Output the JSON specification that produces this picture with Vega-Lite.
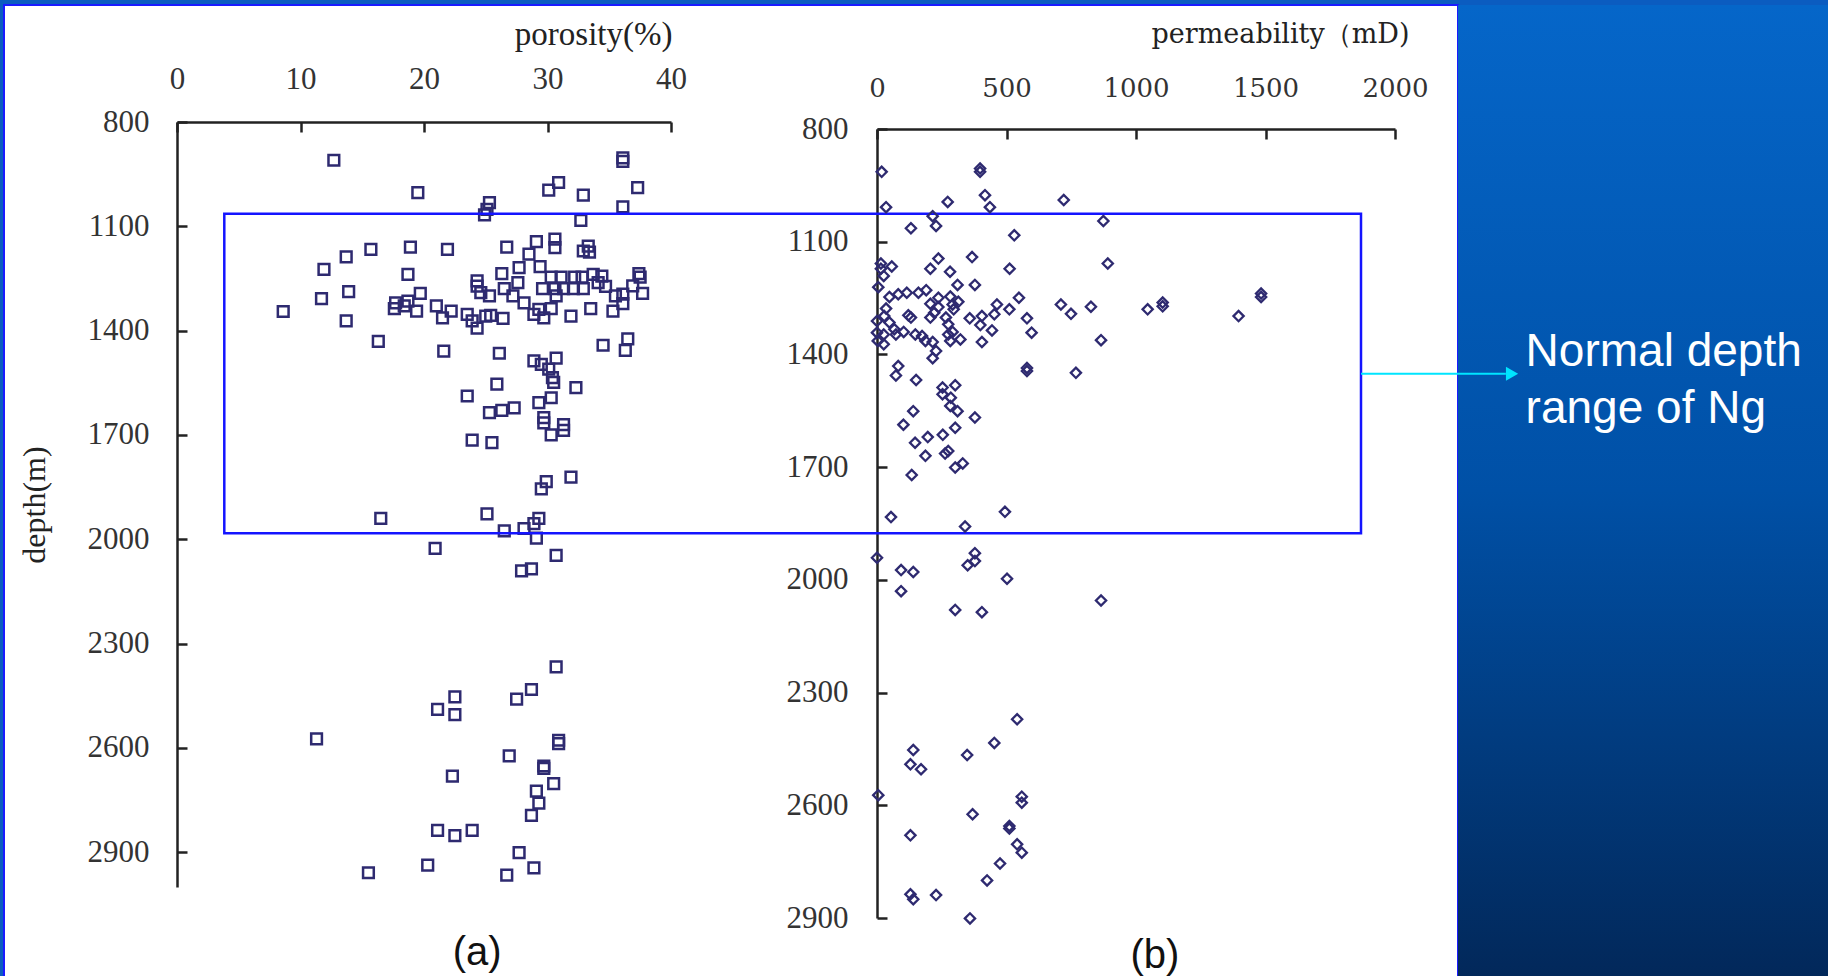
{
  "$schema": "https://vega.github.io/schema/vega-lite/v6.json",
  "padding": {"left": 3, "top": 4, "right": 0, "bottom": 0},
  "background": "#0b5cc0",
  "spacing": 0,
  "bounds": "flush",
  "config": {
    "view": {"stroke": null},
    "axis": {
      "grid": false,
      "labelFont": "Liberation Serif",
      "titleFont": "Liberation Serif",
      "labelColor": "#333333",
      "titleColor": "#222222",
      "domainColor": "#222222",
      "tickColor": "#222222",
      "domainWidth": 2.5,
      "tickWidth": 2.5,
      "tickSize": -10,
      "labelFontSize": 31,
      "titleFontSize": 32,
      "titleFontWeight": "normal",
      "labelOverlap": false,
      "labelFlush": false,
      "format": "d"
    }
  },
  "datasets": {
    "poro": [
      {"porosity": 12.7, "depth": 910}, {"porosity": 36.1, "depth": 903}, {"porosity": 36.1, "depth": 913},
      {"porosity": 19.5, "depth": 1003}, {"porosity": 30.1, "depth": 996}, {"porosity": 30.9, "depth": 974},
      {"porosity": 32.9, "depth": 1010}, {"porosity": 37.3, "depth": 989}, {"porosity": 36.1, "depth": 1044},
      {"porosity": 25.3, "depth": 1032}, {"porosity": 25.1, "depth": 1051}, {"porosity": 24.9, "depth": 1067},
      {"porosity": 32.7, "depth": 1083}, {"porosity": 26.7, "depth": 1160}, {"porosity": 29.1, "depth": 1144},
      {"porosity": 30.6, "depth": 1137}, {"porosity": 30.6, "depth": 1161}, {"porosity": 32.9, "depth": 1171},
      {"porosity": 33.4, "depth": 1174}, {"porosity": 33.3, "depth": 1157}, {"porosity": 15.7, "depth": 1166},
      {"porosity": 18.9, "depth": 1160}, {"porosity": 21.9, "depth": 1166}, {"porosity": 13.7, "depth": 1188},
      {"porosity": 11.9, "depth": 1224}, {"porosity": 18.7, "depth": 1238}, {"porosity": 28.5, "depth": 1180},
      {"porosity": 27.7, "depth": 1219}, {"porosity": 29.4, "depth": 1216}, {"porosity": 26.3, "depth": 1236},
      {"porosity": 30.3, "depth": 1246}, {"porosity": 31.1, "depth": 1246}, {"porosity": 32.2, "depth": 1246},
      {"porosity": 32.8, "depth": 1246}, {"porosity": 33.7, "depth": 1238}, {"porosity": 34.4, "depth": 1243},
      {"porosity": 37.4, "depth": 1236}, {"porosity": 37.5, "depth": 1246}, {"porosity": 24.3, "depth": 1257},
      {"porosity": 24.3, "depth": 1272}, {"porosity": 24.6, "depth": 1291}, {"porosity": 25.3, "depth": 1300},
      {"porosity": 26.5, "depth": 1279}, {"porosity": 27.6, "depth": 1262}, {"porosity": 27.2, "depth": 1300},
      {"porosity": 28.1, "depth": 1320}, {"porosity": 29.6, "depth": 1279}, {"porosity": 30.6, "depth": 1279},
      {"porosity": 30.7, "depth": 1300}, {"porosity": 31.3, "depth": 1279}, {"porosity": 32.1, "depth": 1279},
      {"porosity": 32.9, "depth": 1279}, {"porosity": 34.1, "depth": 1262}, {"porosity": 34.7, "depth": 1273},
      {"porosity": 35.5, "depth": 1300}, {"porosity": 36.1, "depth": 1295}, {"porosity": 36.9, "depth": 1271},
      {"porosity": 37.7, "depth": 1293}, {"porosity": 36.1, "depth": 1322}, {"porosity": 35.3, "depth": 1344},
      {"porosity": 33.5, "depth": 1337}, {"porosity": 31.9, "depth": 1358}, {"porosity": 28.9, "depth": 1353},
      {"porosity": 29.7, "depth": 1363}, {"porosity": 29.3, "depth": 1339}, {"porosity": 30.3, "depth": 1337},
      {"porosity": 8.6, "depth": 1345}, {"porosity": 11.7, "depth": 1308}, {"porosity": 13.9, "depth": 1288},
      {"porosity": 13.7, "depth": 1372}, {"porosity": 16.3, "depth": 1431}, {"porosity": 17.7, "depth": 1320},
      {"porosity": 17.6, "depth": 1337}, {"porosity": 18.4, "depth": 1329}, {"porosity": 18.7, "depth": 1315},
      {"porosity": 19.4, "depth": 1344}, {"porosity": 19.7, "depth": 1293}, {"porosity": 21.0, "depth": 1329},
      {"porosity": 21.5, "depth": 1363}, {"porosity": 22.2, "depth": 1344}, {"porosity": 23.5, "depth": 1353},
      {"porosity": 23.9, "depth": 1372}, {"porosity": 24.3, "depth": 1393}, {"porosity": 25.0, "depth": 1358},
      {"porosity": 25.4, "depth": 1356}, {"porosity": 26.4, "depth": 1365}, {"porosity": 21.6, "depth": 1459},
      {"porosity": 26.1, "depth": 1465}, {"porosity": 34.5, "depth": 1442}, {"porosity": 36.3, "depth": 1457},
      {"porosity": 36.5, "depth": 1424}, {"porosity": 28.9, "depth": 1487}, {"porosity": 30.7, "depth": 1479},
      {"porosity": 29.5, "depth": 1497}, {"porosity": 30.1, "depth": 1511}, {"porosity": 30.4, "depth": 1535},
      {"porosity": 25.9, "depth": 1554}, {"porosity": 30.5, "depth": 1549}, {"porosity": 32.3, "depth": 1564},
      {"porosity": 23.5, "depth": 1588}, {"porosity": 25.3, "depth": 1636}, {"porosity": 26.3, "depth": 1629},
      {"porosity": 27.3, "depth": 1622}, {"porosity": 29.3, "depth": 1607}, {"porosity": 30.3, "depth": 1593},
      {"porosity": 29.7, "depth": 1650}, {"porosity": 29.7, "depth": 1665}, {"porosity": 31.3, "depth": 1670},
      {"porosity": 31.3, "depth": 1687}, {"porosity": 30.3, "depth": 1700}, {"porosity": 23.9, "depth": 1715},
      {"porosity": 25.5, "depth": 1722}, {"porosity": 31.9, "depth": 1821}, {"porosity": 29.9, "depth": 1834},
      {"porosity": 29.5, "depth": 1855}, {"porosity": 16.5, "depth": 1940}, {"porosity": 25.1, "depth": 1927},
      {"porosity": 29.3, "depth": 1940}, {"porosity": 28.9, "depth": 1955}, {"porosity": 28.1, "depth": 1969},
      {"porosity": 26.5, "depth": 1976}, {"porosity": 29.1, "depth": 1997}, {"porosity": 20.9, "depth": 2026},
      {"porosity": 30.7, "depth": 2046}, {"porosity": 27.9, "depth": 2091}, {"porosity": 28.7, "depth": 2085},
      {"porosity": 30.7, "depth": 2367}, {"porosity": 28.7, "depth": 2432}, {"porosity": 27.5, "depth": 2460},
      {"porosity": 22.5, "depth": 2453}, {"porosity": 21.1, "depth": 2489}, {"porosity": 22.5, "depth": 2504},
      {"porosity": 11.3, "depth": 2574}, {"porosity": 30.9, "depth": 2578}, {"porosity": 30.9, "depth": 2588},
      {"porosity": 26.9, "depth": 2623}, {"porosity": 29.7, "depth": 2652}, {"porosity": 29.7, "depth": 2659},
      {"porosity": 22.3, "depth": 2681}, {"porosity": 30.5, "depth": 2703}, {"porosity": 29.1, "depth": 2724},
      {"porosity": 29.3, "depth": 2759}, {"porosity": 28.7, "depth": 2794}, {"porosity": 21.1, "depth": 2837},
      {"porosity": 22.5, "depth": 2852}, {"porosity": 23.9, "depth": 2837}, {"porosity": 27.7, "depth": 2901},
      {"porosity": 28.9, "depth": 2945}, {"porosity": 26.7, "depth": 2966}, {"porosity": 20.3, "depth": 2937},
      {"porosity": 15.5, "depth": 2959}
    ],
    "perm": [
      {"permeability": 18, "depth": 914}, {"permeability": 398, "depth": 905}, {"permeability": 398, "depth": 914},
      {"permeability": 417, "depth": 976}, {"permeability": 436, "depth": 1008}, {"permeability": 35, "depth": 1008},
      {"permeability": 273, "depth": 994}, {"permeability": 721, "depth": 989}, {"permeability": 215, "depth": 1032},
      {"permeability": 228, "depth": 1058}, {"permeability": 131, "depth": 1064}, {"permeability": 874, "depth": 1045},
      {"permeability": 530, "depth": 1083}, {"permeability": 367, "depth": 1141}, {"permeability": 237, "depth": 1145},
      {"permeability": 206, "depth": 1172}, {"permeability": 282, "depth": 1180}, {"permeability": 512, "depth": 1172},
      {"permeability": 891, "depth": 1158}, {"permeability": 15, "depth": 1158}, {"permeability": 15, "depth": 1172},
      {"permeability": 57, "depth": 1166}, {"permeability": 26, "depth": 1191}, {"permeability": 5, "depth": 1221},
      {"permeability": 311, "depth": 1215}, {"permeability": 378, "depth": 1215}, {"permeability": 48, "depth": 1247},
      {"permeability": 82, "depth": 1240}, {"permeability": 115, "depth": 1236}, {"permeability": 160, "depth": 1236},
      {"permeability": 190, "depth": 1229}, {"permeability": 237, "depth": 1249}, {"permeability": 283, "depth": 1246},
      {"permeability": 314, "depth": 1260}, {"permeability": 206, "depth": 1265}, {"permeability": 237, "depth": 1274},
      {"permeability": 296, "depth": 1280}, {"permeability": 292, "depth": 1267}, {"permeability": 548, "depth": 1249},
      {"permeability": 463, "depth": 1267}, {"permeability": 511, "depth": 1280}, {"permeability": 710, "depth": 1267},
      {"permeability": 749, "depth": 1292}, {"permeability": 826, "depth": 1273}, {"permeability": 1045, "depth": 1280},
      {"permeability": 1103, "depth": 1262}, {"permeability": 1103, "depth": 1272}, {"permeability": 1396, "depth": 1298},
      {"permeability": 1483, "depth": 1238}, {"permeability": 1483, "depth": 1247}, {"permeability": 865, "depth": 1362},
      {"permeability": 35, "depth": 1278}, {"permeability": 0, "depth": 1311}, {"permeability": 28, "depth": 1298},
      {"permeability": 48, "depth": 1315}, {"permeability": 67, "depth": 1333}, {"permeability": 0, "depth": 1342},
      {"permeability": 26, "depth": 1347}, {"permeability": 73, "depth": 1347}, {"permeability": 103, "depth": 1340},
      {"permeability": 3, "depth": 1364}, {"permeability": 26, "depth": 1373}, {"permeability": 121, "depth": 1296},
      {"permeability": 131, "depth": 1302}, {"permeability": 148, "depth": 1347}, {"permeability": 174, "depth": 1351},
      {"permeability": 187, "depth": 1364}, {"permeability": 206, "depth": 1302}, {"permeability": 221, "depth": 1289},
      {"permeability": 215, "depth": 1367}, {"permeability": 228, "depth": 1391}, {"permeability": 215, "depth": 1410},
      {"permeability": 266, "depth": 1302}, {"permeability": 275, "depth": 1320}, {"permeability": 275, "depth": 1347},
      {"permeability": 283, "depth": 1364}, {"permeability": 292, "depth": 1340}, {"permeability": 322, "depth": 1360},
      {"permeability": 358, "depth": 1304}, {"permeability": 399, "depth": 1322}, {"permeability": 405, "depth": 1298},
      {"permeability": 453, "depth": 1293}, {"permeability": 444, "depth": 1336}, {"permeability": 405, "depth": 1367},
      {"permeability": 579, "depth": 1304}, {"permeability": 597, "depth": 1342}, {"permeability": 579, "depth": 1436},
      {"permeability": 579, "depth": 1444}, {"permeability": 768, "depth": 1449}, {"permeability": 82, "depth": 1431},
      {"permeability": 73, "depth": 1456}, {"permeability": 151, "depth": 1468}, {"permeability": 253, "depth": 1488},
      {"permeability": 302, "depth": 1482}, {"permeability": 253, "depth": 1506}, {"permeability": 285, "depth": 1515},
      {"permeability": 283, "depth": 1537}, {"permeability": 311, "depth": 1551}, {"permeability": 140, "depth": 1551},
      {"permeability": 378, "depth": 1568}, {"permeability": 102, "depth": 1587}, {"permeability": 147, "depth": 1635},
      {"permeability": 196, "depth": 1620}, {"permeability": 254, "depth": 1614}, {"permeability": 302, "depth": 1595},
      {"permeability": 187, "depth": 1670}, {"permeability": 263, "depth": 1664}, {"permeability": 275, "depth": 1657},
      {"permeability": 302, "depth": 1701}, {"permeability": 331, "depth": 1690}, {"permeability": 134, "depth": 1721},
      {"permeability": 54, "depth": 1833}, {"permeability": 494, "depth": 1819}, {"permeability": 340, "depth": 1858},
      {"permeability": 0, "depth": 1941}, {"permeability": 93, "depth": 1974}, {"permeability": 140, "depth": 1979},
      {"permeability": 378, "depth": 1929}, {"permeability": 378, "depth": 1950}, {"permeability": 350, "depth": 1961},
      {"permeability": 502, "depth": 1997}, {"permeability": 93, "depth": 2030}, {"permeability": 302, "depth": 2080},
      {"permeability": 405, "depth": 2086}, {"permeability": 865, "depth": 2055}, {"permeability": 541, "depth": 2371},
      {"permeability": 453, "depth": 2434}, {"permeability": 348, "depth": 2466}, {"permeability": 140, "depth": 2453},
      {"permeability": 129, "depth": 2491}, {"permeability": 170, "depth": 2504}, {"permeability": 5, "depth": 2573},
      {"permeability": 559, "depth": 2577}, {"permeability": 559, "depth": 2593}, {"permeability": 369, "depth": 2624},
      {"permeability": 511, "depth": 2655}, {"permeability": 511, "depth": 2662}, {"permeability": 129, "depth": 2680},
      {"permeability": 541, "depth": 2704}, {"permeability": 559, "depth": 2726}, {"permeability": 475, "depth": 2755},
      {"permeability": 425, "depth": 2800}, {"permeability": 129, "depth": 2837}, {"permeability": 140, "depth": 2850},
      {"permeability": 228, "depth": 2839}, {"permeability": 359, "depth": 2901}
    ],
    "ngRange": [
      {"top": 1064, "bottom": 1983, "label": "Normal depth\nrange of Ng"}
    ]
  },
  "hconcat": [
    {
      "width": 1454,
      "height": 972,
      "view": {"fill": "white", "stroke": "#1a1aff", "strokeWidth": 2},
      "layer": [
        {
          "layer": [
            {
              "data": {"name": "poro"},
              "mark": {"type": "point", "shape": "square", "filled": false, "size": 115, "strokeWidth": 2.5, "color": "#2e2a70", "opacity": 1},
              "encoding": {
                "x": {
                  "field": "porosity", "type": "quantitative",
                  "scale": {"domain": [0, 40], "range": [173, 667], "nice": false, "zero": false},
                  "axis": {
                    "orient": "top", "offset": -117, "values": [0, 10, 20, 30, 40],
                    "labelPadding": 53, "labelBaseline": "middle",
                    "title": "porosity(%)", "titleFontSize": 33, "titleX": 668, "titleY": -88,
                    "titleAlign": "right", "titleBaseline": "middle"
                  }
                },
                "y": {
                  "field": "depth", "type": "quantitative",
                  "scale": {"domain": [800, 3000], "range": [117, 882], "nice": false, "zero": false},
                  "axis": {
                    "orient": "left", "offset": -173, "values": [800, 1100, 1400, 1700, 2000, 2300, 2600, 2900],
                    "labelPadding": 38, "labelAlign": "right",
                    "title": "depth(m)", "titleX": -143, "titleBaseline": "middle"
                  }
                }
              }
            },
            {
              "data": {"name": "ngRange"},
              "mark": {"type": "rect", "filled": false, "color": "#1414ff", "strokeWidth": 2.5},
              "encoding": {
                "x": {"datum": 3.83, "type": "quantitative"},
                "x2": {"datum": 95.87},
                "y": {"field": "top", "type": "quantitative"},
                "y2": {"field": "bottom"}
              }
            },
            {
              "data": {"name": "ngRange"},
              "mark": {"type": "text", "align": "center", "baseline": "middle", "font": "Liberation Sans", "fontSize": 40, "color": "#111111"},
              "encoding": {
                "x": {"datum": 24.3, "type": "quantitative"},
                "y": {"datum": 3190, "type": "quantitative"},
                "text": {"value": "(a)"}
              }
            }
          ]
        },
        {
          "layer": [
            {
              "data": {"name": "perm"},
              "mark": {"type": "point", "shape": "diamond", "filled": false, "size": 105, "strokeWidth": 2.3, "color": "#2e2a70", "opacity": 1},
              "encoding": {
                "x": {
                  "field": "permeability", "type": "quantitative",
                  "scale": {"domain": [0, 2000], "range": [873, 1391], "nice": false, "zero": false},
                  "axis": {
                    "orient": "top", "offset": -124, "values": [0, 500, 1000, 1500, 2000],
                    "labelPadding": 51, "labelBaseline": "middle", "labelDx": -9,
                    "labelFont": "DejaVu Serif", "labelFontSize": 26,
                    "title": "permeability（mD)", "titleFont": "DejaVu Serif", "titleFontSize": 27,
                    "titleX": 1405, "titleY": -95, "titleAlign": "right", "titleBaseline": "middle"
                  }
                },
                "y": {
                  "field": "depth", "type": "quantitative",
                  "scale": {"domain": [800, 2900], "range": [124, 913], "nice": false, "zero": false},
                  "axis": {
                    "orient": "left", "offset": -873, "values": [800, 1100, 1400, 1700, 2000, 2300, 2600, 2900],
                    "labelPadding": 39, "labelAlign": "right", "title": null
                  }
                }
              }
            },
            {
              "data": {"name": "ngRange"},
              "mark": {"type": "text", "align": "center", "baseline": "middle", "font": "Liberation Sans", "fontSize": 40, "color": "#111111"},
              "encoding": {
                "x": {"datum": 1073, "type": "quantitative"},
                "y": {"datum": 3001, "type": "quantitative"},
                "text": {"value": "(b)"}
              }
            }
          ]
        }
      ],
      "resolve": {
        "scale": {"x": "independent", "y": "independent"},
        "axis": {"x": "independent", "y": "independent"}
      }
    },
    {
      "width": 371,
      "height": 972,
      "view": {
        "stroke": null,
        "fill": {
          "gradient": "linear", "x1": 0, "y1": 0, "x2": 0, "y2": 1,
          "stops": [
            {"offset": 0, "color": "#0566c9"},
            {"offset": 0.5, "color": "#0050a6"},
            {"offset": 1, "color": "#02285a"}
          ]
        }
      },
      "layer": [
        {
          "data": {"name": "ngRange"},
          "mark": {"type": "rule", "color": "#00e5ff", "strokeWidth": 1.8},
          "encoding": {
            "x": {"datum": 95.87, "type": "quantitative", "scale": {"domain": [0, 40], "range": [-1281, -787], "nice": false, "zero": false}, "axis": null},
            "x2": {"datum": 107.6},
            "y": {"datum": 1524, "type": "quantitative", "scale": {"domain": [800, 3000], "range": [117, 882], "nice": false, "zero": false}, "axis": null}
          }
        },
        {
          "data": {"name": "ngRange"},
          "mark": {"type": "point", "shape": "triangle-right", "filled": true, "size": 200, "color": "#00e5ff", "opacity": 1},
          "encoding": {
            "x": {"datum": 108.1, "type": "quantitative", "axis": null},
            "y": {"datum": 1524, "type": "quantitative", "axis": null}
          }
        },
        {
          "data": {"name": "ngRange"},
          "mark": {"type": "text", "lineBreak": "\n", "align": "left", "baseline": "alphabetic", "font": "Liberation Sans", "fontSize": 46, "lineHeight": 57, "color": "#ffffff"},
          "encoding": {
            "x": {"datum": 109.2, "type": "quantitative", "axis": null},
            "y": {"datum": 1502, "type": "quantitative", "axis": null},
            "text": {"field": "label"}
          }
        }
      ]
    }
  ]
}
